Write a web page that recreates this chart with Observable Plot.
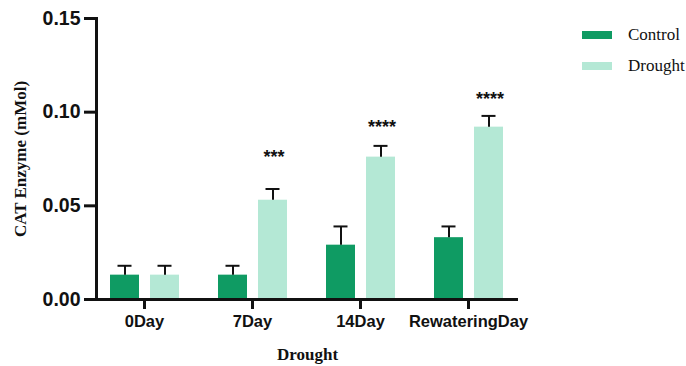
<!DOCTYPE html>
<html>
<head>
<meta charset="utf-8">
<script src="https://cdn.jsdelivr.net/npm/d3@7"></script>
<script src="https://cdn.jsdelivr.net/npm/@observablehq/plot@0.6"></script>
<style>
  html, body { margin: 0; padding: 0; background: #fff; }
  #chart { position: relative; width: 686px; height: 366px; }
  #chart svg { display: block; }
  g[aria-label="y-axis label"] text,
  g[aria-label="x-axis label"] text {
    font-family: "Liberation Serif", "DejaVu Serif", serif;
    font-weight: bold;
    font-size: 17px;
  }
  g[aria-label="significance"] text { letter-spacing: 2px; }
  .legend {
    position: absolute; left: 582px; top: 24px;
    font-family: "Liberation Serif", serif; font-size: 17px; color: #111;
  }
  .legend .item { display: flex; align-items: center; height: 22px; margin-bottom: 9px; }
  .legend .sw { width: 30px; height: 8px; margin-right: 16px; }
</style>
</head>
<body>
<div id="chart"></div>
<script>
// CAT enzyme activity per sampling day, control vs drought treatment
const days = ["0Day", "7Day", "14Day", "RewateringDay"];
const control = [0.013, 0.013, 0.029, 0.033];
const controlErr = [0.005, 0.005, 0.010, 0.006];
const drought = [0.013, 0.053, 0.076, 0.092];
const droughtErr = [0.005, 0.006, 0.006, 0.006];
// significance marks and the value level they sit at
const stars = ["", "***", "****", "****"];
const starLevel = [null, 0.076, 0.092, 0.107];
const yTicks = [0, 0.05, 0.10, 0.15];
const series = ["Control", "Drought"];

const CONTROL_COLOR = "#0f9b63";
const DROUGHT_COLOR = "#b4e8d5";

const ctrlRows = days.map((d, i) => ({day: d, value: control[i], err: controlErr[i]}));
const drRows = days.map((d, i) => ({day: d, value: drought[i], err: droughtErr[i]}));
const starRows = days.map((d, i) => ({day: d, label: stars[i], level: starLevel[i]})).filter(d => d.label);

const sans = "'Liberation Sans', Arial, sans-serif";
const CTRL_DX = -19.5, DR_DX = 20.5;

const errorMarks = (rows, dx) => [
  Plot.ruleX(rows, {x: "day", y1: "value", y2: d => d.value + d.err, dx, stroke: "#111", strokeWidth: 2}),
  Plot.tickY(rows, {x: "day", y: d => d.value + d.err, dx, insetLeft: 47, insetRight: 47, stroke: "#111", strokeWidth: 2})
];

const plot = Plot.plot({
  width: 686,
  height: 366,
  marginLeft: 96,
  marginRight: 168,
  marginTop: 18,
  marginBottom: 67,
  style: {fontFamily: sans, color: "#111", background: "#fff"},
  x: {domain: days, range: [89, 522], padding: 0},
  y: {domain: [0, 0.15]},
  marks: [
    Plot.barY(ctrlRows, {x: "day", y: "value", fill: CONTROL_COLOR, insetLeft: 20, insetRight: 59}),
    Plot.barY(drRows, {x: "day", y: "value", fill: DROUGHT_COLOR, insetLeft: 60, insetRight: 19}),
    ...errorMarks(ctrlRows, CTRL_DX),
    ...errorMarks(drRows, DR_DX),
    Plot.text(starRows, {x: "day", y: "level", text: "label", dx: DR_DX + 1, fontSize: 18, fontWeight: "bold", fontFamily: sans, fill: "#111", ariaLabel: "significance"}),
    Plot.ruleY([0], {stroke: "#111", strokeWidth: 3}),
    Plot.frame({anchor: "left", stroke: "#111", strokeWidth: 3}),
    Plot.axisY({
      ticks: yTicks, tickFormat: d3.format(".2f"), tickSize: 12, tickPadding: 4,
      strokeWidth: 3, fontSize: 19.5, fontWeight: "bold",
      label: "CAT Enzyme (mMol)", labelAnchor: "center", labelOffset: 83, labelArrow: "none"
    }),
    Plot.axisX({
      tickSize: 10, tickPadding: 6, strokeWidth: 3, fontSize: 16.5, fontWeight: "bold",
      label: "Drought", labelAnchor: "center", labelOffset: 60, labelArrow: "none"
    })
  ]
});

const chart = document.getElementById("chart");
chart.appendChild(plot);

const legend = document.createElement("div");
legend.className = "legend";
[[series[0], CONTROL_COLOR], [series[1], DROUGHT_COLOR]].forEach(([name, color]) => {
  const item = document.createElement("div");
  item.className = "item";
  const sw = document.createElement("span");
  sw.className = "sw";
  sw.style.background = color;
  const label = document.createElement("span");
  label.textContent = name;
  item.append(sw, label);
  legend.appendChild(item);
});
chart.appendChild(legend);
</script>
</body>
</html>
